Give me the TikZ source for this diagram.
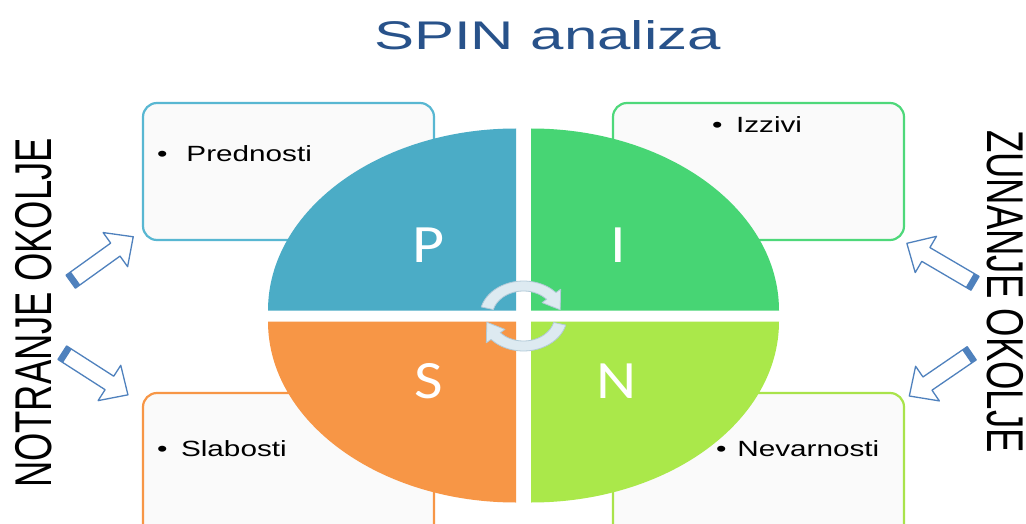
\documentclass[tikz,border=0pt]{standalone}
\usepackage{fontspec}
\setmainfont{Liberation Sans}
\newfontfamily\letterfont{Carlito}
\usetikzlibrary{calc}

\definecolor{titleblue}{RGB}{40,82,138}
\definecolor{pcol}{HTML}{4BACC6}
\definecolor{icol}{HTML}{47D574}
\definecolor{scol}{HTML}{F79646}
\definecolor{ncol}{HTML}{AAE84A}
\definecolor{pline}{HTML}{58B7D2}
\definecolor{iline}{HTML}{4ED87A}
\definecolor{sline}{HTML}{F79646}
\definecolor{nline}{HTML}{A9E34B}
\definecolor{arrowblue}{HTML}{4F81BD}
\definecolor{rotfill}{HTML}{DDEAF1}
\definecolor{rotedge}{HTML}{B2CAD8}

% block arrow: tail coordinate, angle, length
\newcommand{\blockarrow}[3]{%
	\begin{scope}[shift={(#1)}, rotate=#2]
		\draw[barrow] (0,-8) -- ({#3-22},-8) -- ({#3-22},-21) -- (#3,0)
			-- ({#3-22},21) -- ({#3-22},8) -- (0,8) -- cycle;
		\fill[bband] (0,-8) rectangle (6,8);
	\end{scope}}

\begin{document}
\begin{tikzpicture}[x=1pt,y=-1pt,
	box/.style={draw=#1, line width=2.2pt, rounded corners=14pt, fill=white!98!black},
	item/.style={anchor=base west, inner sep=0pt, font=\fontsize{22}{26}\selectfont},
	letter/.style={anchor=base, inner sep=0pt, text=white, font=\letterfont\fontsize{54}{60}\selectfont},
	side/.style={inner sep=0pt, font=\fontsize{51.7}{60}\selectfont},
	barrow/.style={draw=arrowblue, line width=1.3pt, fill=white, line join=round},
	bband/.style={fill=arrowblue},
	rot/.style={fill=rotfill, draw=rotedge, line width=0.8pt, line join=round}]

	\clip (0,0) rectangle (1026,524);
	\fill[white] (0,0) rectangle (1026,524);

	\node[anchor=base, inner sep=0pt, text=titleblue, font=\fontsize{40}{48}\selectfont]
		(title) at (547.5,49.5) {\scalebox{1.5}[1]{SPIN analiza}};

	% the four boxes behind the circle
	\draw[box=pline] (143,103) rectangle (434,240);
	\draw[box=iline] (613,103) rectangle (904,240);
	\draw[box=sline] (143,393) rectangle (434,545);
	\draw[box=nline] (613,393) rectangle (904,545);

	\node[item] (pred) at (157,161) {\scalebox{1.35}[1]{\textbullet\hspace{14pt}Prednosti}};
	\node[item] (izz) at (712,133) {\scalebox{1.35}[1]{\textbullet\hspace{10pt}Izzivi}};
	\node[item] (slab) at (157,456) {\scalebox{1.35}[1]{\textbullet\hspace{10pt}Slabosti}};
	\node[item] (nev) at (716,456) {\scalebox{1.35}[1]{\textbullet\hspace{8pt}Nevarnosti}};

	% quarters
	\fill[pcol] (516,310.5) -- (268,310.5) arc[start angle=180, end angle=270, x radius=248, y radius=182] -- cycle;
	\fill[icol] (531,310.5) -- (779,310.5) arc[start angle=0, end angle=-90, x radius=248, y radius=182] -- cycle;
	\fill[scol] (516,321.5) -- (268,321.5) arc[start angle=180, end angle=90, x radius=248, y radius=181] -- cycle;
	\fill[ncol] (531,321.5) -- (779,321.5) arc[start angle=0, end angle=90, x radius=248, y radius=181] -- cycle;

	\node[letter] (p) at (429,262) {\scalebox{1.15}[1]{P}};
	\node[letter] (i) at (618,262) {\scalebox{1.15}[1]{I}};
	\node[letter] (s) at (429,398) {\scalebox{1.15}[1]{S}};
	\node[letter] (n) at (617,398) {\scalebox{1.15}[1]{N}};

	% turning arrows in the middle
	\coordinate (mid) at (523.5,316);
	\begin{scope}[shift={(mid)}, yscale=-1, xscale=1.25]
		\draw[rot] (165:35) arc[start angle=165, end angle=42, radius=35] -- (42:40) -- (12:30)
			-- (42:20) -- (42:25) arc[start angle=42, end angle=165, radius=25] -- cycle;
		\draw[rot] (-15:35) arc[start angle=-15, end angle=-138, radius=35] -- (-138:40) -- (-168:30)
			-- (-138:20) -- (-138:25) arc[start angle=-138, end angle=-15, radius=25] -- cycle;
	\end{scope}

	% arrows from the side labels
	\coordinate (nt1) at (70.7,281.7);
	\coordinate (nt2) at (62.3,352.7);
	\coordinate (zt1) at (975,283.3);
	\coordinate (zt2) at (971.7,353.3);
	\blockarrow{nt1}{35.7}{77}
	\blockarrow{nt2}{-32.7}{78}
	\blockarrow{zt1}{149.6}{79}
	\blockarrow{zt2}{214.4}{75.6}

	\node[side, rotate=90] (notr) at (33.5,313) {\scalebox{0.704}[1]{NOTRANJE OKOLJE}};
	\node[side, rotate=-90] (zun) at (1005,291.5) {\scalebox{0.707}[1]{ZUNANJE OKOLJE}};

\end{tikzpicture}
\end{document}
